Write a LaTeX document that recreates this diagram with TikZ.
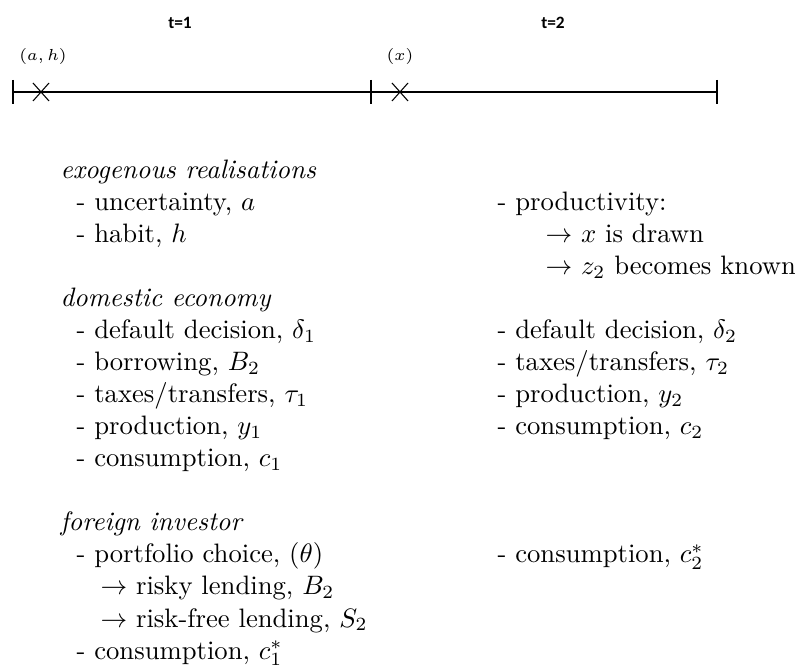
\documentclass[tikz,border=0pt]{standalone}
\usepackage{fontspec}
\newfontfamily\calfont{Carlito}
\usetikzlibrary{calc}
\tikzset{
  axis/.style      = {line width=0.7pt},
  tickline/.style  = {line width=0.9pt},
  crossmark/.style = {line width=0.4pt},
  period/.style    = {font=\calfont\bfseries\fontsize{6.5}{8}\selectfont},
  shock/.style     = {font=\fontsize{6}{7}\selectfont},
  txt/.style       = {anchor=base west, inner sep=0pt, font=\normalsize},
}
\newcommand{\crossat}[1]{%
  \draw[crossmark] ($(#1)+(-8,-9)$) -- ($(#1)+(8,9)$);
  \draw[crossmark] ($(#1)+(-8,9)$) -- ($(#1)+(8,-9)$);
}
\newcommand{\tickat}[1]{%
  \draw[tickline] ($(#1)+(0,-12)$) -- ($(#1)+(0,12)$);
}
\begin{document}
\begin{tikzpicture}[x=0.375pt, y=-0.375pt]
  \useasboundingbox (0,0) rectangle (795,668);
  % time line
  \coordinate (s0) at (13,92);
  \coordinate (s1) at (371,92);
  \coordinate (s2) at (717,92);
  \coordinate (m1) at (41,92);
  \coordinate (m2) at (400,92);
  \draw[axis] (s0) -- (s2);
  \tickat{s0} \tickat{s1} \tickat{s2}
  \crossat{m1} \crossat{m2}
  \node[period] (p1) at (180,23) {t=1};
  \node[period] (p2) at (553,23) {t=2};
  \node[shock] (ah) at (43,57) {$(a,h)$};
  \node[shock] (xs) at (400,57) {$(x)$};
  % period 1
  \node[txt] (exo)    at (60,179)  {\textit{exogenous realisations}};
  \node[txt] (unc)    at (76,211)  {- uncertainty, $a$};
  \node[txt] (hab)    at (76,243)  {- habit, $h$};
  \node[txt] (dom)    at (60,307)  {\textit{domestic economy}};
  \node[txt] (def1)   at (76,339)  {- default decision, $\delta_1$};
  \node[txt] (bor)    at (76,371)  {- borrowing, $B_2$};
  \node[txt] (tax1)   at (76,403)  {- taxes/transfers, $\tau_1$};
  \node[txt] (pro1)   at (76,435)  {- production, $y_1$};
  \node[txt] (con1)   at (76,467)  {- consumption, $c_1$};
  \node[txt] (fin)    at (60,531)  {\textit{foreign investor}};
  \node[txt] (port)   at (76,563)  {- portfolio choice, $(\theta)$};
  \node[txt] (risky)  at (100,595) {$\rightarrow$ risky lending, $B_2$};
  \node[txt] (rfree)  at (100,627) {$\rightarrow$ risk-free lending, $S_2$};
  \node[txt] (cons1s) at (76,659)  {- consumption, $c_1^*$};
  % period 2
  \node[txt] (prod)   at (497,211) {- productivity:};
  \node[txt] (xdraw)  at (545,243) {$\rightarrow$ $x$ is drawn};
  \node[txt] (zknown) at (545,275) {$\rightarrow$ $z_2$ becomes known};
  \node[txt] (def2)   at (497,339) {- default decision, $\delta_2$};
  \node[txt] (tax2)   at (497,371) {- taxes/transfers, $\tau_2$};
  \node[txt] (pro2)   at (497,403) {- production, $y_2$};
  \node[txt] (con2)   at (497,435) {- consumption, $c_2$};
  \node[txt] (cons2s) at (497,563) {- consumption, $c_2^*$};
\end{tikzpicture}
\end{document}
